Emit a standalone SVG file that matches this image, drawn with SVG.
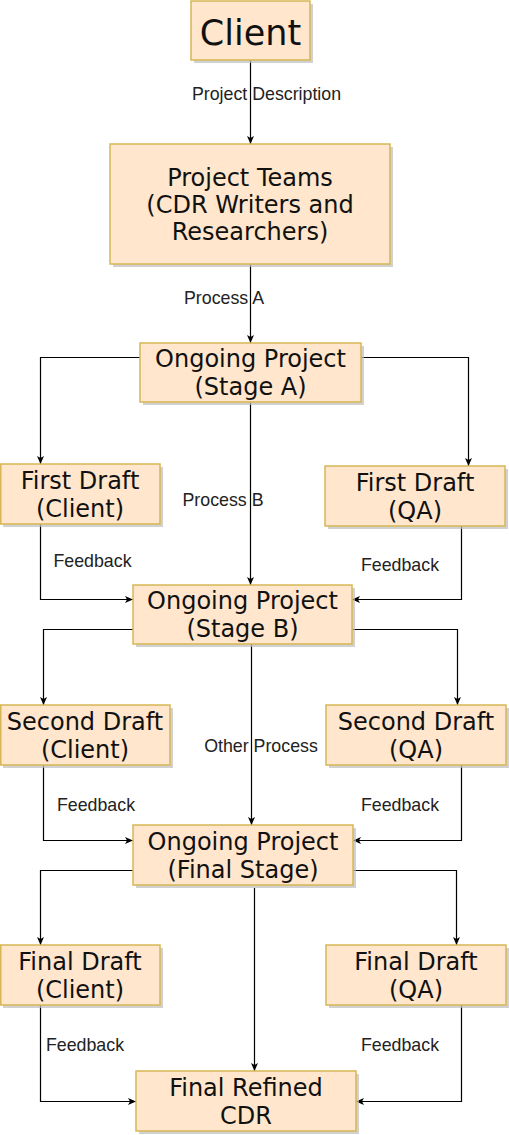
<svg xmlns="http://www.w3.org/2000/svg" width="509" height="1135" viewBox="0 0 509 1135">
<style>
.box{fill:#ffe6cc;stroke:#d6b656;stroke-width:1.5}
.sh{fill:#bdbdbd;opacity:0.7}
.nt{font-family:"DejaVu Sans",Verdana,sans-serif;font-size:24px;fill:#111;text-anchor:middle}
.lb{font-family:"Liberation Sans",Arial,sans-serif;font-size:17.8px;fill:#222;text-anchor:middle}
.ed{fill:none;stroke:#000;stroke-width:1.2}
</style>
<defs>
<marker id="ar" markerUnits="userSpaceOnUse" markerWidth="9" markerHeight="8" refX="8" refY="4" orient="auto">
<path d="M0,0.5 L8,4 L0,7.5 L2,4 Z" fill="#000"/>
</marker>
</defs>
<rect width="509" height="1135" fill="#fff"/>
<g id="connectors">
<path class="ed" marker-end="url(#ar)" d="M250.5 60 V144"/>
<path class="ed" marker-end="url(#ar)" d="M250.5 264 V343"/>
<path class="ed" marker-end="url(#ar)" d="M140 357.5 H40.5 V464"/>
<path class="ed" marker-end="url(#ar)" d="M361 357.5 H468.5 V466"/>
<path class="ed" marker-end="url(#ar)" d="M250.5 402 V585"/>
<path class="ed" marker-end="url(#ar)" d="M40.5 524 V599.5 H133"/>
<path class="ed" marker-end="url(#ar)" d="M461.5 526 V599.5 H352"/>
<path class="ed" marker-end="url(#ar)" d="M133 629.5 H43.5 V705"/>
<path class="ed" marker-end="url(#ar)" d="M352 629.5 H457.5 V705"/>
<path class="ed" marker-end="url(#ar)" d="M251.5 644 V825"/>
<path class="ed" marker-end="url(#ar)" d="M43.5 765 V840.5 H133"/>
<path class="ed" marker-end="url(#ar)" d="M461.5 765 V840.5 H353"/>
<path class="ed" marker-end="url(#ar)" d="M133 870.5 H40.5 V945"/>
<path class="ed" marker-end="url(#ar)" d="M353 870.5 H456.5 V945"/>
<path class="ed" marker-end="url(#ar)" d="M254.5 888 V1071"/>
<path class="ed" marker-end="url(#ar)" d="M40.5 1005 V1101.5 H136"/>
<path class="ed" marker-end="url(#ar)" d="M461.5 1005 V1101.5 H356"/>
<text class="lb" x="266.5" y="100">Project Description</text>
<text class="lb" x="224" y="304">Process A</text>
<text class="lb" x="223" y="505.5">Process B</text>
<text class="lb" x="92.5" y="567">Feedback</text>
<text class="lb" x="400" y="571">Feedback</text>
<text class="lb" x="261" y="751.5">Other Process</text>
<text class="lb" x="96" y="811">Feedback</text>
<text class="lb" x="400" y="811">Feedback</text>
<text class="lb" x="85" y="1050.5">Feedback</text>
<text class="lb" x="400" y="1050.5">Feedback</text>
</g>
<g id="client">
<rect class="sh" x="194" y="4" width="119" height="59"/>
<rect class="box" x="191" y="1" width="119" height="59"/>
<text class="nt" x="250.5" y="45" style="font-size:35px">Client</text>
</g>
<g id="project-teams">
<rect class="sh" x="113" y="147" width="280" height="120"/>
<rect class="box" x="110" y="144" width="280" height="120"/>
<text class="nt" x="250" y="186">Project Teams</text>
<text class="nt" x="250" y="213">(CDR Writers and</text>
<text class="nt" x="250" y="240">Researchers)</text>
</g>
<g id="stage-a">
<rect class="sh" x="143" y="346" width="221" height="59"/>
<rect class="box" x="140" y="343" width="221" height="59"/>
<text class="nt" x="250.5" y="367">Ongoing Project</text>
<text class="nt" x="250.5" y="395">(Stage A)</text>
</g>
<g id="first-draft-client">
<rect class="sh" x="3" y="467" width="160" height="60"/>
<rect class="box" x="0.75" y="464" width="159.25" height="60"/>
<text class="nt" x="80" y="489">First Draft</text>
<text class="nt" x="80" y="517">(Client)</text>
</g>
<g id="first-draft-qa">
<rect class="sh" x="328" y="469" width="180" height="60"/>
<rect class="box" x="325" y="466" width="180" height="60"/>
<text class="nt" x="415" y="491">First Draft</text>
<text class="nt" x="415" y="519">(QA)</text>
</g>
<g id="stage-b">
<rect class="sh" x="136" y="588" width="219" height="59"/>
<rect class="box" x="133" y="585" width="219" height="59"/>
<text class="nt" x="242.5" y="609">Ongoing Project</text>
<text class="nt" x="242.5" y="637">(Stage B)</text>
</g>
<g id="second-draft-client">
<rect class="sh" x="3" y="708" width="170" height="60"/>
<rect class="box" x="0.75" y="705" width="169.25" height="60"/>
<text class="nt" x="85" y="729.5">Second Draft</text>
<text class="nt" x="85" y="757.5">(Client)</text>
</g>
<g id="second-draft-qa">
<rect class="sh" x="329" y="708" width="180" height="60"/>
<rect class="box" x="326" y="705" width="180" height="60"/>
<text class="nt" x="416" y="729.5">Second Draft</text>
<text class="nt" x="416" y="757.5">(QA)</text>
</g>
<g id="final-stage">
<rect class="sh" x="136" y="828" width="220" height="60"/>
<rect class="box" x="133" y="825" width="220" height="60"/>
<text class="nt" x="243" y="850">Ongoing Project</text>
<text class="nt" x="243" y="878">(Final Stage)</text>
</g>
<g id="final-draft-client">
<rect class="sh" x="3" y="948" width="160" height="60"/>
<rect class="box" x="0.75" y="945" width="159.25" height="60"/>
<text class="nt" x="80" y="969.5">Final Draft</text>
<text class="nt" x="80" y="997.5">(Client)</text>
</g>
<g id="final-draft-qa">
<rect class="sh" x="329" y="948" width="180" height="60"/>
<rect class="box" x="326" y="945" width="180" height="60"/>
<text class="nt" x="416" y="969.5">Final Draft</text>
<text class="nt" x="416" y="997.5">(QA)</text>
</g>
<g id="final-refined-cdr">
<rect class="sh" x="139" y="1074" width="220" height="60"/>
<rect class="box" x="136" y="1071" width="220" height="60"/>
<text class="nt" x="246" y="1096">Final Refined</text>
<text class="nt" x="246" y="1124">CDR</text>
</g>
</svg>
